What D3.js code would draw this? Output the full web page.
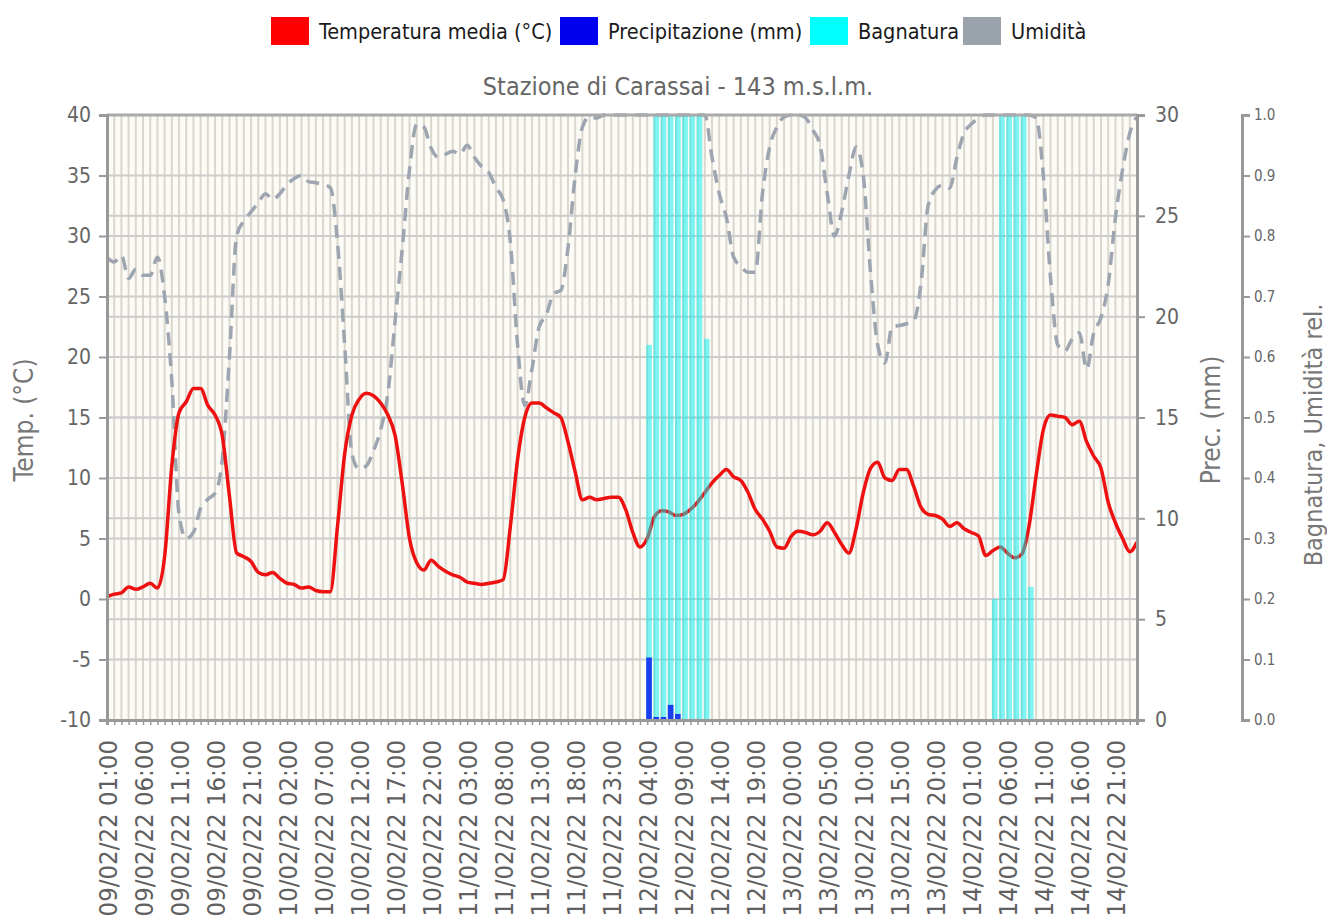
<!DOCTYPE html>
<html><head><meta charset="utf-8">
<script src="https://cdn.jsdelivr.net/npm/d3@7/dist/d3.min.js"></script>
<style>
body{margin:0;background:#fff;}
svg text{font-family:"DejaVu Sans Condensed","DejaVu Sans",sans-serif;}
</style></head>
<body><svg id="c" width="1327" height="918"></svg>
<script>
// ---- data ----
const startTime = "2022-02-09T01:00:00";
const hours = 144;
const temperature = [0.2,0.4,0.5,1.0,0.8,1.0,1.3,0.9,3.5,11.0,15.4,16.3,17.4,17.4,16.0,15.2,13.5,8.5,3.8,3.5,3.1,2.2,2.0,2.2,1.7,1.3,1.2,0.9,1.0,0.7,0.6,0.6,
6.0,12.0,15.2,16.5,17.0,16.8,16.2,15.2,13.5,9.5,5.0,3.0,2.4,3.2,2.7,2.3,2.0,1.8,1.4,1.3,1.2,1.3,1.4,1.6,
6.0,11.5,15.0,16.2,16.2,15.8,15.4,15.0,13.0,10.5,8.2,8.4,8.2,8.3,8.4,8.4,7.4,5.5,4.3,5.0,6.8,7.3,7.2,6.9,7.0,7.4,8.0,8.8,9.6,10.2,10.7,10.1,9.8,8.8,
7.4,6.6,5.6,4.3,4.2,5.2,5.6,5.5,5.3,5.6,6.3,5.5,4.5,3.8,5.8,8.8,10.8,11.3,10.0,9.8,10.7,10.7,9.3,7.6,7.0,6.9,6.6,6.0,6.3,5.8,5.5,5.2,
3.6,4.0,4.3,3.8,3.4,3.7,6.0,10.2,14.0,15.2,15.1,15.0,14.4,14.7,13.0,11.8,10.8,8.0,6.3,5.0,3.9,4.7];
const humidity = [0.765,0.757,0.768,0.73,0.745,0.735,0.735,0.765,0.70,0.56,0.34,0.30,0.31,0.35,0.365,0.375,0.43,0.60,0.80,0.825,0.84,0.855,0.87,0.86,0.87,0.885,0.895,0.90,0.89,0.888,0.885,0.88,
0.79,0.62,0.44,0.415,0.42,0.445,0.48,0.54,0.66,0.78,0.91,0.985,0.98,0.945,0.93,0.935,0.94,0.935,0.95,0.93,0.915,0.905,0.88,0.86,
0.79,0.62,0.52,0.58,0.65,0.67,0.705,0.71,0.78,0.90,0.98,0.997,0.995,1,1,1,1,1,1,1,1,1,1,1,1,1,1,1,0.93,0.87,0.83,0.765,0.75,0.74,0.74,
0.87,0.947,0.98,0.997,1,1,0.995,0.975,0.95,0.87,0.80,0.84,0.90,0.947,0.90,0.74,0.62,0.59,0.65,0.652,0.655,0.66,0.72,0.85,0.876,0.884,0.879,0.93,0.97,0.985,0.995,
1,1,1,1,1,1,1,0.995,0.90,0.73,0.62,0.61,0.63,0.64,0.58,0.64,0.665,0.72,0.83,0.91,0.97,0.995,1.0];
// precipitation (mm) by hour index
const precIndex = [75,76,77,78,79];
const precValue = [3.1,0.15,0.15,0.75,0.3];
// bagnatura (wetness) by hour index
const wetIndex = [75,76,77,78,79,80,81,82,83,123,124,125,126,127,128];
const wetValue = [0.62,1,1,1,1,1,1,1,0.63,0.2,1,1,1,1,0.22];
const tempTicks = [-10,-5,0,5,10,15,20,25,30,35,40];
const precTicks = [0,5,10,15,20,25,30];
const relTicks = [0,0.1,0.2,0.3,0.4,0.5,0.6,0.7,0.8,0.9,1.0];
const labelEvery = 5;

const parse = d3.timeParse("%Y-%m-%dT%H:%M:%S");
const fmt = d3.timeFormat("%d/%m/%y %H:%M");
const t0 = parse(startTime);
const categories = d3.range(hours).map(i => fmt(d3.timeHour.offset(t0, i)));

// ---- layout ----
const svg = d3.select("#c");
const L = 107, R = 1137, T = 115, B = 720;
const x = d3.scalePoint().domain(categories).range([L, R]);
const yT = d3.scaleLinear().domain([-10,40]).range([B,T]);
const yP = d3.scaleLinear().domain([0,30]).range([B,T]);
const yH = d3.scaleLinear().domain([0,1]).range([B,T]);
const step = x.step();

// background
svg.append("rect").attr("x",L).attr("y",T).attr("width",R-L).attr("height",B-T).attr("fill","#fcfbf5");
// vertical grid
svg.append("g").selectAll("line").data(categories).join("line")
  .attr("x1",d=>x(d)).attr("x2",d=>x(d)).attr("y1",T).attr("y2",B)
  .attr("stroke","#dbd7cf").attr("stroke-width",2);
// horizontal grid
svg.append("g").selectAll("line").data(tempTicks).join("line")
  .attr("x1",L).attr("x2",R).attr("y1",d=>yT(d)).attr("y2",d=>yT(d))
  .attr("stroke","#cdcdcd").attr("stroke-width",2);
svg.append("g").selectAll("line").data(precTicks).join("line")
  .attr("x1",L).attr("x2",R).attr("y1",d=>yP(d)).attr("y2",d=>yP(d))
  .attr("stroke","#cdcdcd").attr("stroke-width",2);

// lines
const lineT = d3.line().x((d,i)=>x(categories[i])).y(d=>yT(d)).curve(d3.curveMonotoneX);
const lineH = d3.line().x((d,i)=>x(categories[i])).y(d=>yH(d)).curve(d3.curveMonotoneX);
svg.append("path").attr("d",lineH(humidity)).attr("fill","none").attr("stroke","#9ca5b0")
  .attr("stroke-width",3.5).attr("stroke-dasharray","13,8");
svg.append("path").attr("d",lineT(temperature)).attr("fill","none").attr("stroke","#ee1111")
  .attr("stroke-width",3.5).attr("stroke-linejoin","round");

// bars
const bw = step*0.78;
svg.append("g").selectAll("rect").data(wetIndex).join("rect")
  .attr("x",(d)=>x(categories[d])-1).attr("width",bw)
  .attr("y",(d,i)=>yH(wetValue[i])).attr("height",(d,i)=>B-yH(wetValue[i]))
  .attr("fill","#00f0f0").attr("opacity",0.5);
svg.append("g").selectAll("rect").data(precIndex).join("rect")
  .attr("x",(d)=>x(categories[d])-1).attr("width",bw)
  .attr("y",(d,i)=>yP(precValue[i])).attr("height",(d,i)=>B-yP(precValue[i]))
  .attr("fill","#1a3ff0");

// frame
svg.append("line").attr("x1",L).attr("x2",R).attr("y1",T).attr("y2",T).attr("stroke","#aaa").attr("stroke-width",3);

const axisColor = "#999";
// left axis
const gL = svg.append("g").attr("transform",`translate(${L},0)`)
  .call(d3.axisLeft(yT).tickValues(tempTicks).tickFormat(d=>String(d)).tickSize(8).tickPadding(8));
// right prec axis
const gP = svg.append("g").attr("transform",`translate(${R},0)`)
  .call(d3.axisRight(yP).tickValues(precTicks).tickFormat(d=>String(d)).tickSize(8).tickPadding(10));
// right rel axis
const gH = svg.append("g").attr("transform",`translate(1242,0)`)
  .call(d3.axisRight(yH).tickValues(relTicks).tickFormat(d3.format(".1f")).tickSize(8).tickPadding(4));
// bottom axis
const gB = svg.append("g").attr("transform",`translate(0,${B})`)
  .call(d3.axisBottom(x).tickValues(categories).tickSize(5).tickFormat((d,i)=> i%labelEvery===0 ? d : ""));

[gL,gP,gH,gB].forEach(g=>{
  g.select(".domain").attr("stroke",axisColor).attr("stroke-width",3);
  g.selectAll(".tick line").attr("stroke",axisColor).attr("stroke-width",2);
  g.selectAll("text").attr("fill","#666");
});
gL.selectAll("text").attr("font-size",21);
gP.selectAll("text").attr("font-size",21);
gH.selectAll("text").attr("font-size",15);
gB.selectAll(".tick line").attr("stroke-width",1.5);
gB.selectAll("text").attr("font-size",25.5).attr("fill","#606060")
  .attr("transform","rotate(-90)").attr("text-anchor","end").attr("dx","-20").attr("dy","0.36em").attr("y",0);

// axis titles
const title = (txt,xx,yy,size)=>svg.append("text").attr("transform",`translate(${xx},${yy}) rotate(-90)`)
  .attr("text-anchor","middle").attr("font-size",size).attr("fill","#777").text(txt);
title("Temp. (°C)",33,420,26);
title("Prec. (mm)",1220,420,26);
title("Bagnatura, Umidità rel.",1322,435,25);

// chart title
svg.append("text").attr("x",678).attr("y",95).attr("text-anchor","middle").attr("font-size",25)
  .attr("fill","#666").text("Stazione di Carassai - 143 m.s.l.m.");

// legend
const legendNames = ["Temperatura media (°C)","Precipitazione (mm)","Bagnatura","Umidità"];
const legendColors = ["#ff0000","#0000ee","#00ffff","#9aa2ac"];
const legendX = [271,560,810,963];
const lg = svg.append("g");
legendNames.forEach((n,i)=>{
  lg.append("rect").attr("x",legendX[i]).attr("y",17).attr("width",38).attr("height",28).attr("fill",legendColors[i]);
  lg.append("text").attr("x",legendX[i]+48).attr("y",39).attr("font-size",21.5).attr("fill","#1a1a1a").text(n);
});
</script></body></html>
